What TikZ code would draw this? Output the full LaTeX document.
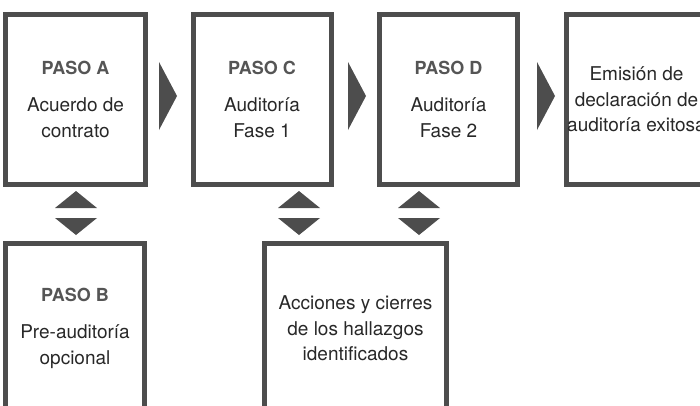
\documentclass[tikz,border=0pt]{standalone}
\usepackage{fontspec}
\setmainfont{TeX Gyre Heros}
\usetikzlibrary{calc}
\definecolor{boxgray}{RGB}{77,77,77}
\definecolor{headgray}{RGB}{85,85,85}
\definecolor{txtgray}{RGB}{40,40,40}
\begin{document}
\begin{tikzpicture}[x=1pt,y=-1pt,
  stepbox/.style={draw=boxgray,line width=5pt,minimum width=#1,minimum height=170pt,inner sep=0pt},
  txt/.style={align=center,text=txtgray,inner sep=0pt,font=\fontsize{19}{25.5}\selectfont},
  rtri/.pic={\fill[boxgray] (-9,-34) -- (9,0) -- (-9,34) -- cycle;},
  udtri/.pic={\fill[boxgray] (-21,-5) -- (0,-22) -- (21,-5) -- cycle;
              \fill[boxgray] (-21,5) -- (21,5) -- (0,22) -- cycle;}]
\useasboundingbox (0,0) rectangle (700,405);
\clip (0,0) rectangle (700,405);
% boxes
\node[stepbox=140pt] (A) at (75.5,99.5) {};
\node[stepbox=138pt] (C) at (262,99.5) {};
\node[stepbox=138pt] (D) at (448.5,99.5) {};
\node[stepbox=140pt] (E) at (636.5,99.5) {};
\node[stepbox=139pt] (B) at (75,328.5) {};
\node[stepbox=182pt] (F) at (355.5,328.5) {};
% texts
\newcommand{\pasohead}[1]{{\color{headgray}\fontsize{18}{25.5}\selectfont\bfseries #1}\\[11.5pt]}
\node[txt] (tA) at (A.center) {\pasohead{PASO A}Acuerdo de\\contrato};
\node[txt] (tC) at (C.center) {\pasohead{PASO C}Auditoría\\Fase 1};
\node[txt] (tD) at (D.center) {\pasohead{PASO D}Auditoría\\Fase 2};
\node[txt] (tE) at (E.center) {Emisión de\\declaración de\\auditoría exitosa};
\node[txt] (tB) at (B.center) {\pasohead{PASO B}Pre-auditoría\\opcional};
\node[txt] (tF) at (F.center) {Acciones y cierres\\de los hallazgos\\identificados};
% arrows between boxes
\coordinate (AC) at (168,96);
\coordinate (CD) at (357,96);
\coordinate (DE) at (546,96);
\pic at (AC) {rtri};
\pic at (CD) {rtri};
\pic at (DE) {rtri};
\coordinate (AB) at (76,213);
\coordinate (CF) at (299,213);
\coordinate (DF) at (419,213);
\pic at (AB) {udtri};
\pic at (CF) {udtri};
\pic at (DF) {udtri};
\end{tikzpicture}
\end{document}
